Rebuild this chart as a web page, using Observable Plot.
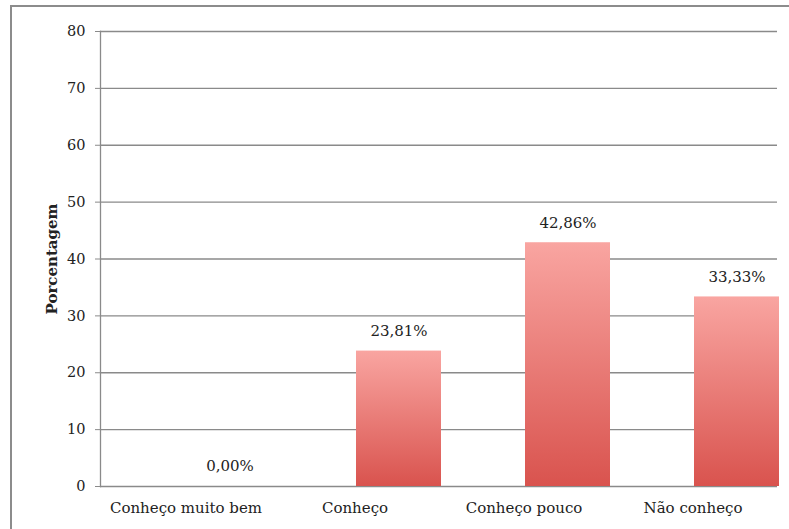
<!DOCTYPE html>
<html>
<head>
<meta charset="utf-8">
<script src="https://cdn.jsdelivr.net/npm/d3@7"></script>
<script src="https://cdn.jsdelivr.net/npm/@observablehq/plot@0.6"></script>
<style>
  html, body { margin: 0; padding: 0; background: #fff; }
  #wrap { position: relative; width: 789px; height: 529px; overflow: hidden; }
  #frame { position: absolute; left: 10px; top: 5px; width: 900px; height: 700px;
           border-left: 2.5px solid #8c8c8c; border-top: 2.5px solid #8c8c8c; pointer-events: none; }
  svg [aria-label="y-axis label"] text { font-weight: bold; font-size: 15px; }
</style>
</head>
<body>
<div id="wrap"><div id="frame"></div></div>
<script>
const categories = ["Conheço muito bem", "Conheço", "Conheço pouco", "Não conheço"];
const values = [0, 23.81, 42.86, 33.33];
const valueLabels = ["0,00%", "23,81%", "42,86%", "33,33%"];
const yTicks = [0, 10, 20, 30, 40, 50, 60, 70, 80];
const yTitle = "Porcentagem";

const data = categories.map((c, i) => ({cat: c, value: values[i], label: valueLabels[i]}));

const chart = Plot.plot({
  width: 789,
  height: 529,
  marginLeft: 100,
  marginRight: 12,
  marginTop: 31,
  marginBottom: 43,
  style: {fontFamily: "'DejaVu Serif', serif", fontSize: "14px", color: "#222", background: "transparent"},
  x: {domain: categories, paddingInner: 0.5, paddingOuter: 0.25, label: null},
  y: {domain: [0, 80], label: null},
  marks: [
    Plot.ruleY(yTicks, {stroke: "#8a8a8a", strokeWidth: 1.3}),
    Plot.barY(data, {x: "cat", y: "value", fill: "url(#barGrad)", dx: 44}),
    Plot.frame({anchor: "left", stroke: "#8a8a8a", strokeWidth: 1.3}),
    Plot.axisY({ticks: yTicks, tickSize: 5, tickPadding: 10, stroke: "#8a8a8a", label: yTitle, labelAnchor: "center", labelArrow: "none", labelOffset: 54, fontSize: 14.5}),
    Plot.axisX({tickSize: 0, tickPadding: 16, label: null, fontSize: 15}),
    Plot.text(data, {x: "cat", y: "value", text: "label", dx: 44, dy: -20, fill: "#222", fontSize: 15})
  ]
});

const svg = d3.select(chart);
const defs = svg.insert("defs", ":first-child");
const g = defs.append("linearGradient").attr("id", "barGrad")
  .attr("x1", 0).attr("y1", 0).attr("x2", 0).attr("y2", 1);
g.append("stop").attr("offset", "0%").attr("stop-color", "#f9a5a1");
g.append("stop").attr("offset", "100%").attr("stop-color", "#d9534e");

chart.style.position = "absolute";
chart.style.left = "0";
chart.style.top = "0";
document.getElementById("wrap").insertBefore(chart, document.getElementById("frame"));
</script>
</body>
</html>
